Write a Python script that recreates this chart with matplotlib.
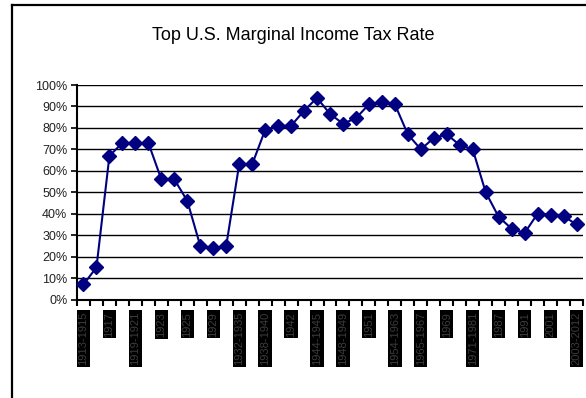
import matplotlib
matplotlib.use("Agg")
import matplotlib.pyplot as plt
from matplotlib.ticker import PercentFormatter, FixedLocator, NullFormatter
from matplotlib.lines import Line2D

plt.rcParams['font.family'] = ['Liberation Sans', 'DejaVu Sans']

# periods on the category axis
periods = ["1913-1915", "1916", "1917", "1918", "1919-1921", "1922", "1923", "1924",
           "1925", "1926-1928", "1929", "1930-1931", "1932-1935", "1936-1937",
           "1938-1940", "1941", "1942", "1943", "1944-1945", "1946-1947",
           "1948-1949", "1950", "1951", "1952-1953", "1954-1963", "1964",
           "1965-1967", "1968", "1969", "1970", "1971-1981", "1982-1986",
           "1987", "1988-1990", "1991", "1992-2000", "2001", "2002", "2003-2012"]

# top marginal rate (%)
rates = [7, 15, 67, 73, 73, 73, 56, 56, 46, 25, 24, 25, 63, 63, 79, 81, 81, 88,
         94, 86.5, 82, 84.5, 91, 92, 91, 77, 70, 75.3, 77, 72, 70, 50, 38.5,
         33, 31, 40, 39.6, 38.8, 35]

fig = plt.figure(figsize=(5.86, 3.98), dpi=100)
W, H = 586.0, 398.0
ax = fig.add_axes([77 / W, 1 - 299.5 / H, 506 / W, 214.5 / H])

x = list(range(len(rates)))
y = [r / 100.0 for r in rates]
ax.plot(x, y, color='#000080', lw=1.5, marker='D', ms=7.5, mec='#000080', mfc='#000080',
        zorder=3, clip_on=False)

ax.set_xlim(-0.5, len(rates) - 0.5)
ax.set_ylim(0, 1)
ax.set_yticks([i / 10 for i in range(11)])
ax.yaxis.set_major_formatter(PercentFormatter(1.0, decimals=0))
ax.grid(axis='y', color='black', lw=1)
ax.set_axisbelow(True)

for s in ['top', 'right']:
    ax.spines[s].set_visible(False)
for s in ['left', 'bottom']:
    ax.spines[s].set_linewidth(1.5)

# ticks between categories
ax.xaxis.set_major_locator(FixedLocator([i - 0.5 for i in range(len(rates) + 1)]))
ax.xaxis.set_major_formatter(NullFormatter())
ax.tick_params(axis='x', which='major', length=4, width=1.5, direction='out')
ax.tick_params(axis='y', length=4, width=1.2, labelsize=9, labelcolor='#222222', pad=3)

# every other category labelled
ax.set_xticks(x[::2], minor=True)
ax.set_xticklabels(periods[::2], minor=True, rotation=90, fontsize=8,
                   color='#3c3c3c', va='top', ha='center')
ax.tick_params(axis='x', which='minor', length=0, pad=9)
for t in ax.xaxis.get_minorticklabels():
    t.set_bbox(dict(facecolor='black', edgecolor='none', boxstyle='square,pad=0.15'))

fig.text(0.5, 1 - 35 / H, "Top U.S. Marginal Income Tax Rate", ha='center', va='center',
         fontsize=13)

# chart border (cut off at right and bottom)
fig.add_artist(Line2D([12 / W, 12 / W], [0, 1 - 5 / H], transform=fig.transFigure,
                      color='black', lw=1.6))
fig.add_artist(Line2D([12 / W, 1], [1 - 5 / H, 1 - 5 / H], transform=fig.transFigure,
                      color='black', lw=1.6))

fig.savefig("out.png", dpi=100)
